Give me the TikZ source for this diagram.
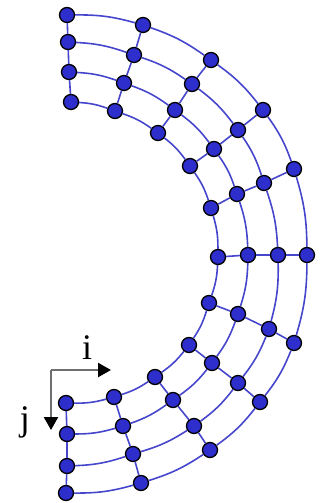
\documentclass[tikz,border=0pt]{standalone}
\usepackage{fontspec}
\setmainfont{Liberation Serif}
\usepackage{xcolor}
\usetikzlibrary{arrows.meta,backgrounds}
\definecolor{gridblue}{RGB}{70,70,205}
\definecolor{dotblue}{RGB}{46,46,204}
\definecolor{axisgray}{RGB}{110,110,110}
\tikzset{
    gridpt/.style={circle, draw=black, fill=dotblue, line width=1.3pt, minimum size=15pt, inner sep=0pt},
    ringline/.style={draw=gridblue, line width=1.6pt, bend left=8},
    spokeline/.style={draw=gridblue, line width=1.6pt},
    axisline/.style={draw=axisgray, line width=2.4pt, -{Triangle[length=13pt,width=14pt,color=black]}},
    axislabel/.style={font=\fontsize{36}{36}\selectfont, inner sep=0pt}
}
\begin{document}
\begin{tikzpicture}[x=1pt, y=-1pt]
    \useasboundingbox (0,0) rectangle (325,503);

    % Outer ring
    \foreach \x/\y [count=\n] in {67/15, 143/25, 211/60, 263/110, 294/169, 307/255, 294/343, 260/402, 210/450, 141/483, 66/493} {
        \node[gridpt] (a\n) at (\x,\y) {};
    }
    % Second ring
    \foreach \x/\y [count=\n] in {68/42, 134/55, 192/84, 238/130, 264/183, 278/255, 269/329, 238/383, 194/426, 133/454, 67/466} {
        \node[gridpt] (b\n) at (\x,\y) {};
    }
    % Third ring
    \foreach \x/\y [count=\n] in {69/72, 124/83, 175/110, 214/149, 237/194, 248/255, 238/314, 212/363, 173/400, 123/426, 67/434} {
        \node[gridpt] (c\n) at (\x,\y) {};
    }
    % Inner ring
    \foreach \x/\y [count=\n] in {71/102, 115/111, 158/133, 190/166, 211/208, 218/257, 209/303, 189/345, 155/377, 114/397, 66/403} {
        \node[gridpt] (d\n) at (\x,\y) {};
    }

    % Rings
    \foreach \r in {a,b,c,d} {
        \foreach \n [evaluate=\n as \m using int(\n+1)] in {1,...,10} {
            \draw[ringline] (\r\n) to (\r\m);
        }
    }
    % Spokes
    \foreach \n in {1,...,11} {
        \draw[spokeline] (a\n) -- (b\n);
        \draw[spokeline] (b\n) -- (c\n);
        \draw[spokeline] (c\n) -- (d\n);
    }

    % Axes
    \coordinate (corner) at (51,370);
    \coordinate (iend) at (111,370);
    \coordinate (jend) at (51,430);
    \draw[axisline] (corner) -- (iend);
    \draw[axisline] (corner) -- (jend);
    \node[axislabel] (ilabel) at (87,348) {i};
    \node[axislabel] (jlabel) at (25,422) {j};
\end{tikzpicture}
\end{document}
